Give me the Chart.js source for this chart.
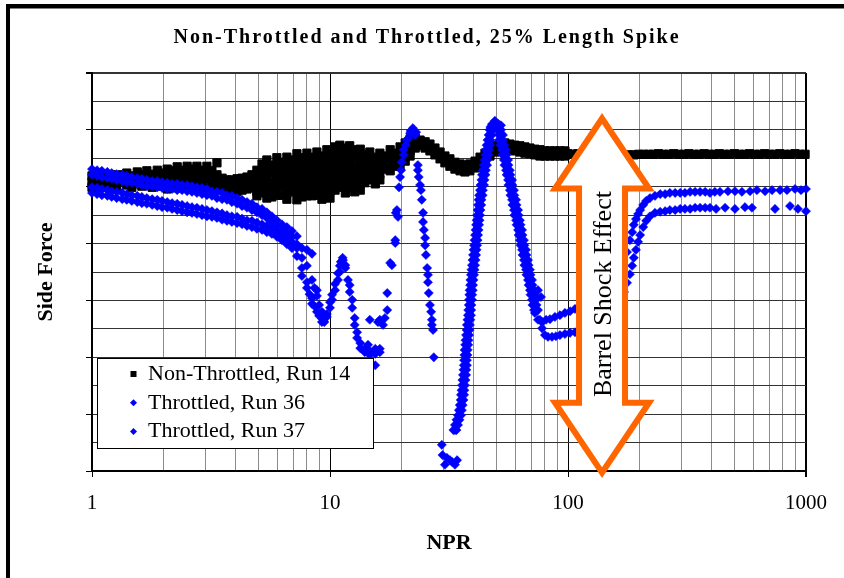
<!DOCTYPE html>
<html><head><meta charset="utf-8">
<script src="https://cdn.jsdelivr.net/npm/chart.js@4.4.0/dist/chart.umd.min.js"></script>
<style>html,body{margin:0;padding:0;background:#fff}#wrap{width:844px;height:578px;position:relative}canvas{display:block}</style>
</head><body><div id="wrap"><canvas id="c" width="844" height="578"></canvas></div>
<script>
const chartTitle = 'Non-Throttled and Throttled, 25% Length Spike';
const xAxisTitle = 'NPR';
const yAxisTitle = 'Side Force';
const seriesLabels = ['Non-Throttled, Run 14', 'Throttled, Run 36', 'Throttled, Run 37'];
const xGridValues = [1,2,3,4,5,6,7,8,9,10,20,30,40,50,60,70,80,90,100,200,300,400,500,600,700,800,900,1000];
const xTickLabels = {1: '1', 10: '10', 100: '100', 1000: '1000'};
const yGridValues = [0,0.5,1,1.5,2,2.5,3,3.5,4,4.5,5,5.5,6,6.5,7];
const yMajorValues = [0,1,2,3,4,5,6,7];
const annotationText = 'Barrel Shock Effect';
const arrowNPR = 139, arrowTopY = 6.20, arrowBottomY = -0.03;

// rows: [NPR, sideForce1, sideForce2, ...]
const run14 = [
[1.00,5.19,5.08,4.99],[1.05,5.15,5.05],[1.10,5.21,5.10,4.99],[1.16,5.17,5.07],[1.21,5.21,5.10,5.01],[1.27,5.17,5.07,4.98],
[1.34,5.21,5.10],[1.40,5.24,5.14,5.03],[1.47,5.19,5.08,4.99],[1.55,5.26,5.15,5.05],[1.62,5.21,5.10,5.01],[1.70,5.28,5.17,5.05],
[1.79,5.22,5.12,4.99],[1.88,5.29,5.19,5.07],[1.97,5.24,5.14,5.01],[2.07,5.31,5.21,5.08,4.96],[2.17,5.28,5.15,5.03],
[2.28,5.35,5.24,5.12,4.98],[2.39,5.29,5.17,5.03],[2.51,5.36,5.26,5.14,4.98],[2.63,5.31,5.19,5.05],[2.76,5.36,5.24,5.12,4.96],
[2.90,5.29,5.17,5.03],[3.04,5.36,5.26,5.14,4.98],[3.19,5.28,5.15,5.01],[3.35,5.42,5.21,5.10,4.99],[3.52,5.15,5.05,4.96],
[3.69,5.12,5.01,4.92],[3.87,5.12,5.03,4.94],[4.07,5.14,5.03,4.92],[4.27,5.15,5.05,4.94],[4.48,5.17,5.07,4.96],[4.70,5.21,5.10,4.98],
[4.93,5.29,5.17,5.05,4.92,4.84],[5.18,5.40,5.28,5.15,5.01,4.89],[5.43,5.47,5.33,5.21,5.07,4.94,4.80],[5.70,5.38,5.24,5.08,4.94,4.82],
[5.98,5.51,5.38,5.26,5.12,4.98,4.85],[6.28,5.43,5.29,5.15,5.01,4.85],[6.59,5.52,5.40,5.28,5.15,5.01,4.89,4.78],
[6.92,5.47,5.33,5.19,5.05,4.91],[7.26,5.58,5.45,5.33,5.19,5.05,4.91,4.77],[7.62,5.51,5.36,5.22,5.08,4.94,4.82],
[8.00,5.59,5.47,5.35,5.22,5.10,4.98,4.84],[8.40,5.52,5.40,5.26,5.12,4.98,4.84],[8.81,5.61,5.49,5.36,5.24,5.12,4.98,4.85],
[9.25,5.54,5.42,5.29,5.15,5.01,4.87,4.78],[9.70,5.65,5.52,5.40,5.28,5.15,5.03,4.91],[10.0,5.58,5.45,5.33,5.19,5.05,4.92,4.80],
[10.5,5.70,5.58,5.45,5.33,5.21,5.08,4.94],[11.0,5.73,5.61,5.49,5.36,5.24,5.12,4.99],[11.6,5.68,5.56,5.42,5.28,5.15,5.01,4.89],
[12.1,5.72,5.59,5.47,5.35,5.22,5.10,4.98],[12.7,5.65,5.51,5.36,5.24,5.12,4.99,4.91],[13.4,5.66,5.54,5.42,5.29,5.17,5.05,4.94],
[14.0,5.56,5.43,5.31,5.19,5.07],[14.7,5.61,5.49,5.36,5.24,5.12],[15.5,5.52,5.40,5.28,5.15,5.05],[16.2,5.59,5.47,5.35,5.22,5.12],
[17.0,5.54,5.42,5.31],[17.9,5.65,5.52,5.40,5.28],[18.8,5.59,5.47,5.36],[19.7,5.70,5.59,5.49,5.36],[20.7,5.77,5.66,5.56,5.45],
[21.7,5.84,5.73,5.63,5.54],[22.8,5.86,5.75,5.68],[23.9,5.82,5.72],[25.1,5.79,5.68],[26.3,5.75,5.63],[27.6,5.68,5.56],
[29.0,5.61,5.49],[30.4,5.54,5.42],[31.9,5.49,5.36],[33.5,5.43,5.31],[35.2,5.40,5.28],[36.9,5.38,5.26],[38.7,5.40,5.28],
[40.7,5.45,5.33],[42.7,5.52,5.40],[44.8,5.59,5.47],[47.0,5.66,5.54],[49.3,5.72,5.61],[51.8,5.75,5.65],[54.3,5.77,5.66],
[57.0,5.75,5.65],[59.8,5.73,5.63],[62.8,5.72,5.61],[65.9,5.70,5.59],[69.2,5.68,5.58],[72.6,5.66,5.56],[76.2,5.65,5.54],
[80.0,5.63,5.54],[84.0,5.63,5.54],[88.1,5.63,5.54],[92.5,5.63,5.54],[97.1,5.63,5.54],
[100,5.58],[105,5.57],[110,5.58],[116,5.57],[122,5.57],[128,5.56],[134,5.57],[141,5.56],[148,5.56],[155,5.55],[163,5.55],
[171,5.55],[180,5.56],[189,5.56],[198,5.57],[208,5.57],[218,5.57],[229,5.57],[240,5.58],[252,5.57],[265,5.57],[278,5.58],
[292,5.57],[307,5.57],[322,5.58],[338,5.57],[355,5.57],[373,5.58],[392,5.57],[411,5.57],[432,5.58],[453,5.57],[476,5.57],
[500,5.58],[525,5.57],[551,5.57],[579,5.58],[608,5.57],[638,5.57],[670,5.58],[704,5.57],[739,5.57],[776,5.58],[815,5.57],
[856,5.57],[899,5.58],[944,5.57],[991,5.57]
];

const run36 = [
[1.00,5.31,5.21],[1.05,5.29,5.19],[1.10,5.28,5.17],[1.16,5.26,5.15],[1.21,5.24,5.14],[1.27,5.22,5.12],[1.34,5.21,5.10],
[1.40,5.19,5.08],[1.47,5.17,5.07],[1.55,5.15,5.05],[1.62,5.14,5.03],[1.70,5.12,5.01],[1.79,5.10,5.01],[1.88,5.10,4.99],
[1.97,5.08,4.98],[2.07,5.07,4.96],[2.17,5.05,4.96],[2.28,5.05,4.94],[2.39,5.03,4.94],[2.51,5.03,4.92],[2.63,5.01,4.91],
[2.76,4.99,4.89],[2.90,4.98,4.87],[3.04,4.96,4.85],[3.19,4.92,4.84],[3.35,4.91,4.80],[3.52,4.89,4.78],[3.69,4.85,4.77],
[3.87,4.84,4.73],[4.07,4.80,4.70],[4.27,4.77,4.66],[4.48,4.73,4.63],[4.70,4.70,4.59],[4.93,4.64,4.55],[5.18,4.61,4.50],
[5.43,4.55,4.45],[5.70,4.48,4.38],[5.98,4.41,4.31],[6.28,4.34,4.24],[6.59,4.29,4.17],[6.92,4.22,4.12],[7.26,4.13,3.99],
[7.62,3.92,3.75],[8.00,3.89,3.61],[8.40,3.82,3.36],[8.6,3.22],[8.81,3.18,3.08],[9.0,2.92],[9.25,2.80,2.69],[9.70,2.76],
[10.0,2.97],[10.2,3.10],[10.5,3.29],[10.8,3.48],[11.0,3.61],[11.3,3.75],[11.6,3.62],[12.1,3.27],[12.4,3.01],[12.7,2.69],
[13.0,2.44],[13.4,2.25],[14.0,2.15],[14.7,2.11,2.66],[15.5,2.15],[16.2,2.09,2.66],
[17.0,2.69],[17.4,3.13],[17.9,3.66],[18.8,4.01],[18.9,4.54],[19.3,4.47],[19.7,5.17],[20.0,5.43],[20.4,5.65],[21.0,5.82],
[21.7,5.94],[22.3,6.03],[23.0,5.96],[23.4,5.29],[23.6,5.17],[24.1,4.94],[24.6,4.54],[24.8,4.24],[25.1,3.97],[25.6,3.57],
[25.8,3.32],[26.3,2.92],[26.8,2.57],[27.3,2.00],
[29.5,0.46],[29.7,0.28],[30.4,0.11],[31.9,0.19],
[33.0,0.72],[34.0,0.90],[34.8,1.07],[35.4,1.25],[35.7,1.42],[36.0,1.60],[36.4,1.78],[36.6,1.95],[36.8,2.13],[37.1,2.30],
[37.5,2.48],[37.8,2.66],[38.1,2.83],[38.4,3.01],[38.6,3.18],[38.9,3.36],[39.3,3.54],[39.7,3.71],[40.1,3.89],[40.5,4.06],
[40.9,4.24],[41.3,4.41],[41.7,4.59],[42.1,4.77],[42.7,4.94],[43.3,5.12],[43.9,5.29],[44.6,5.47],[45.2,5.65],[45.9,5.82],
[46.8,6.00],[47.9,6.10],[49.3,6.16],
[34.0,0.72],[35.0,0.90],[35.8,1.07],[36.4,1.25],[36.7,1.42],[37.1,1.60],[37.4,1.78],[37.6,1.95],[37.9,2.13],[38.2,2.30],
[38.6,2.48],[38.9,2.66],[39.2,2.83],[39.5,3.01],[39.8,3.18],[40.1,3.36],[40.5,3.54],[40.9,3.71],[41.3,3.89],[41.7,4.06],
[42.1,4.24],[42.5,4.41],[42.9,4.59],[43.3,4.77],[43.9,4.94],[44.6,5.12],[45.2,5.29],[45.9,5.47],[46.6,5.65],[47.2,5.82],
[48.2,6.00],
[50.3,6.08],[51.3,5.91],[52.0,5.73],[53.0,5.56],[54.1,5.38],[55.2,5.21],[56.2,5.03],[57.3,4.85],[58.4,4.68],[59.5,4.50],
[60.8,4.33],[62.0,4.15],[63.2,3.97],[64.4,3.80],[65.6,3.62],[66.9,3.45],[68.3,3.27],[69.6,3.10],[70.9,2.92],[72.6,2.78],
[74.8,2.66],[77.8,2.62],
[52.3,6.08],[53.3,5.91],[54.1,5.73],[55.2,5.56],[56.2,5.38],[57.3,5.21],[58.4,5.03],[59.5,4.85],[60.8,4.68],[62.0,4.50],
[63.2,4.33],[64.4,4.15],[65.6,3.97],[66.9,3.80],[68.3,3.62],[69.6,3.45],[70.9,3.27],[72.3,3.10],[73.8,2.92],
[80.9,2.66],[84.0,2.67],[88.1,2.71],[92.5,2.74],[97.1,2.78],[102,2.81],[107,2.85],[112,2.88],[118,2.90],[124,2.92],
[130,2.94],[136,2.97],[143,3.03],[150,3.11],[158,3.24],[165,3.41],[172,3.62],[177,3.85],[182,4.06],[186,4.20],[189,4.33],
[193,4.43],[197,4.52],[201,4.59],[207,4.68],[213,4.75],[221,4.80],[232,4.84],
[244,4.87],[256,4.87],[268,4.89],[282,4.89],[296,4.89],[310,4.89],[326,4.91],[342,4.91],[359,4.91],[377,4.91],[395,4.89],
[414,4.91],[435,4.91],[470,4.92],[503,4.92],[538,4.91],[582,4.92],[622,4.94],[673,4.92],[720,4.94],[778,4.94],[832,4.94],
[899,4.96],[953,4.94],[1000,4.96]
];

const run37 = [
[1.00,4.99,4.89],[1.05,4.98,4.87],[1.10,4.96,4.85],[1.16,4.94,4.84],[1.21,4.92,4.82],[1.27,4.91,4.80],[1.34,4.89,4.78],
[1.40,4.87,4.77],[1.47,4.85,4.75],[1.55,4.84,4.73],[1.62,4.82,4.71],[1.70,4.80,4.70],[1.79,4.78,4.68],[1.88,4.77,4.66],
[1.97,4.75,4.64],[2.07,4.73,4.63],[2.17,4.71,4.61],[2.28,4.70,4.59],[2.39,4.68,4.57],[2.51,4.66,4.55],[2.63,4.64,4.54],
[2.76,4.63,4.52],[2.90,4.61,4.50],[3.04,4.59,4.48],[3.19,4.57,4.47],[3.35,4.55,4.45],[3.52,4.53,4.42],[3.69,4.50,4.40],
[3.87,4.48,4.38],[4.07,4.47,4.36],[4.27,4.44,4.34],[4.48,4.41,4.31],[4.70,4.40,4.29],[4.93,4.37,4.26],[5.18,4.34,4.24],
[5.43,4.31,4.20],[5.70,4.27,4.17],[5.98,4.22,4.12],[6.28,4.17,4.06],[6.59,4.10,3.99],[6.92,4.03,3.92],[7.26,3.92,3.78],
[7.62,3.57,3.43],[8.00,3.32,3.22],[8.2,3.11],[8.40,3.04,2.94],[8.6,2.90],[8.81,2.80],[9.0,2.73],[9.25,2.62],[9.47,2.62],
[9.70,2.71],[10.0,2.87],[10.2,3.01],[10.5,3.18],[10.8,3.36],[11.0,3.50],[11.1,3.68],[11.34,3.71],[11.6,3.57],[11.9,3.36],
[12.1,3.15],[12.4,2.87],[12.7,2.57],[13.0,2.34],[13.4,2.16],[14.0,2.09],[14.45,2.22],[14.7,2.04],[15.5,2.06,1.86],
[15.9,2.62],[16.2,2.15],[16.7,2.57],
[17.4,2.83],[18.2,3.62],[18.8,4.06],[19.1,4.59],[19.5,4.99],[19.9,5.29],[20.4,5.56],[20.8,5.73],[21.4,5.86],[21.8,5.98],
[22.8,5.91],[23.4,5.38],[23.9,5.03],[24.3,4.77],[24.6,4.38],[25.1,4.10],[25.3,3.80],[25.8,3.45],[26.0,3.13],[26.6,2.80],
[26.8,2.66],[27.1,2.48],
[31.0,0.23],[32.6,0.16],[33.5,0.11,0.72],[34.2,0.19],
[34.5,0.81],[35.5,0.98],[36.1,1.16],[36.6,1.34],[36.9,1.51],[37.3,1.69],[37.6,1.86],[37.8,2.04],[38.1,2.22],[38.4,2.39],
[38.7,2.57],[39.1,2.74],[39.3,2.92],[39.6,3.10],[39.9,3.27],[40.3,3.45],[40.7,3.62],[41.1,3.80],[41.5,3.97],[41.9,4.15],
[42.3,4.33],[42.7,4.50],[43.2,4.68],[43.8,4.85],[44.4,5.03],[45.0,5.21],[45.7,5.38],[46.4,5.56],[47.1,5.73],[47.9,5.91],
[48.9,6.05],[51.0,6.10],
[33.5,0.81],[34.5,0.98],[35.1,1.16],[35.5,1.34],[35.9,1.51],[36.2,1.69],[36.5,1.86],[36.7,2.04],[37.0,2.22],[37.3,2.39],
[37.6,2.57],[38.0,2.74],[38.3,2.92],[38.5,3.10],[38.8,3.27],[39.1,3.45],[39.5,3.62],[39.9,3.80],[40.3,3.97],[40.7,4.15],
[41.1,4.33],[41.5,4.50],[41.9,4.68],[42.3,4.85],[42.9,5.03],[43.5,5.21],[44.2,5.38],[44.9,5.56],[45.5,5.73],[46.4,5.91],
[47.2,6.05],
[52.3,6.00],[53.3,5.82],[54.9,5.65],[56.0,5.47],[57.0,5.29],[58.2,5.12],[59.3,4.94],[60.5,4.77],[61.7,4.59],[62.8,4.41],
[64.1,4.24],[65.3,4.06],[66.6,3.89],[67.9,3.71],[69.2,3.54],[70.6,3.36],[72.0,3.18],[73.4,3.01],[74.8,2.83,3.18],[76.2,2.66],
[77.0,3.06],[77.8,2.51],[80.0,2.39],
[50.3,6.00],[51.3,5.82],[52.8,5.65],[53.8,5.47],[54.9,5.29],[56.0,5.12],[57.0,4.94],[58.2,4.77],[59.3,4.59],[60.5,4.41],
[61.7,4.24],[62.8,4.06],[64.1,3.89],[65.3,3.71],[66.6,3.54],[67.9,3.36],[69.2,3.18],[70.6,3.01],[72.0,2.83],
[82.4,2.36],[85.7,2.36],[89.0,2.37],[92.5,2.39],[97.1,2.41],[102,2.43],[107,2.44],[112,2.44],[118,2.46],[124,2.46],
[130,2.48],[136,2.51],[143,2.57],[150,2.66],[158,2.80],[165,2.97],[172,3.15],[177,3.31],[182,3.46],[186,3.61],[189,3.75],
[193,3.89],[197,4.03],[201,4.15],[207,4.29],[213,4.40],[221,4.48],[232,4.54],
[244,4.56],[256,4.57],[268,4.59],[282,4.59],[296,4.61],[310,4.61],[326,4.61],[342,4.63],[359,4.63],[377,4.63],[395,4.63],
[419,4.61],[457,4.63],[503,4.61],[554,4.64],[593,4.63],[741,4.61],[857,4.66],[925,4.61],[1000,4.57]
];

const FONT = "'Liberation Serif','Times New Roman',serif";
const toPoints = rows => rows.flatMap(([x, ...ys]) => ys.map(y => ({x, y})));

const decor = {
  id: 'decor',
  beforeDraw(chart) {
    const ctx = chart.ctx;
    ctx.save();
    ctx.fillStyle = '#fff';
    ctx.fillRect(0, 0, chart.width, chart.height);
    ctx.restore();
  },
  afterDatasetsDraw(chart) {
    const ctx = chart.ctx, xs = chart.scales.x, ys = chart.scales.y, ca = chart.chartArea;
    // annotation arrow
    const cx = xs.getPixelForValue(arrowNPR);
    const yt = ys.getPixelForValue(arrowTopY), yb = ys.getPixelForValue(arrowBottomY);
    const headLen = 70, headHalf = 47, shaftHalf = 23;
    ctx.save();
    ctx.beginPath();
    ctx.moveTo(cx, yt);
    ctx.lineTo(cx + headHalf, yt + headLen);
    ctx.lineTo(cx + shaftHalf, yt + headLen);
    ctx.lineTo(cx + shaftHalf, yb - headLen);
    ctx.lineTo(cx + headHalf, yb - headLen);
    ctx.lineTo(cx, yb);
    ctx.lineTo(cx - headHalf, yb - headLen);
    ctx.lineTo(cx - shaftHalf, yb - headLen);
    ctx.lineTo(cx - shaftHalf, yt + headLen);
    ctx.lineTo(cx - headHalf, yt + headLen);
    ctx.closePath();
    ctx.fillStyle = '#fff';
    ctx.fill();
    ctx.lineWidth = 6;
    ctx.lineJoin = 'miter';
    ctx.miterLimit = 10;
    ctx.strokeStyle = '#FF6600';
    ctx.stroke();
    ctx.translate(cx + 2, (yt + yb) / 2 - 1.5);
    ctx.rotate(-Math.PI / 2);
    ctx.fillStyle = '#000';
    ctx.font = `26px ${FONT}`;
    ctx.textAlign = 'center';
    ctx.textBaseline = 'middle';
    ctx.fillText(annotationText, 0, 0);
    ctx.restore();

    // legend box
    ctx.save();
    const bx = Math.round(ca.left) + 5.5, by = Math.round(ca.bottom) - 112.5, bw = 276, bh = 90;
    ctx.fillStyle = '#fff';
    ctx.fillRect(bx, by, bw, bh);
    ctx.lineWidth = 1;
    ctx.strokeStyle = '#000';
    ctx.strokeRect(bx, by, bw, bh);
    ctx.font = `22px ${FONT}`;
    ctx.textBaseline = 'alphabetic';
    chart.data.datasets.forEach((ds, i) => {
      const base = by + 21.5 + i * 28.7;
      const my = base - 6, mx = bx + 36;
      ctx.fillStyle = ds.backgroundColor;
      if (ds.pointStyle === 'rect') {
        ctx.fillRect(mx - 3, my - 3, 6, 6);
      } else {
        ctx.beginPath();
        ctx.moveTo(mx - 3.5, my); ctx.lineTo(mx, my - 3.5); ctx.lineTo(mx + 3.5, my); ctx.lineTo(mx, my + 3.5);
        ctx.closePath(); ctx.fill();
      }
      ctx.fillStyle = '#000';
      ctx.fillText(ds.label, bx + 50.5, base);
    });
    ctx.restore();
  },
  afterDraw(chart) {
    const ctx = chart.ctx;
    ctx.save();
    ctx.fillStyle = '#000';
    ctx.font = `bold 20px ${FONT}`;
    ctx.textBaseline = 'alphabetic';
    ctx.letterSpacing = '2px';
    const w = ctx.measureText(chartTitle).width;
    ctx.fillText(chartTitle, chart.width / 2 + 5 - w / 2, 43);
    ctx.letterSpacing = '0px';
    // outer frame
    ctx.fillRect(6, 4, chart.width - 6, 4.5);
    ctx.fillRect(6, 4, 4, chart.height - 4);
    ctx.restore();
  }
};

const isDecade = v => Object.prototype.hasOwnProperty.call(xTickLabels, v);

new Chart(document.getElementById('c'), {
  type: 'scatter',
  data: {
    datasets: [
      {label: seriesLabels[0], data: toPoints(run14), pointStyle: 'rect', pointRadius: 5.8, borderWidth: 1,
       backgroundColor: '#000000', borderColor: '#000000', order: 3, clip: 8},
      {label: seriesLabels[1], data: toPoints(run36), pointStyle: 'rectRot', pointRadius: 4.6, borderWidth: 0.5,
       backgroundColor: '#0000FF', borderColor: '#0000FF', order: 2, clip: 8},
      {label: seriesLabels[2], data: toPoints(run37), pointStyle: 'rectRot', pointRadius: 4.6, borderWidth: 0.5,
       backgroundColor: '#0000FF', borderColor: '#0000FF', order: 1, clip: 8}
    ]
  },
  options: {
    responsive: false,
    animation: false,
    devicePixelRatio: 1,
    events: [],
    layout: {padding: {left: 0, right: 38, top: 73, bottom: 0}},
    plugins: {legend: {display: false}, tooltip: {enabled: false}, title: {display: false}},
    elements: {point: {hoverRadius: 0}},
    scales: {
      x: {
        type: 'logarithmic', position: 'bottom', min: 1, max: 1000,
        afterBuildTicks: s => { s.ticks = xGridValues.map(v => ({value: v, major: isDecade(v)})); },
        afterFit: s => { s.height = 107; },
        ticks: {autoSkip: false, maxRotation: 0, minRotation: 0, padding: 14, color: '#000',
                font: {family: FONT, size: 21}, callback: v => xTickLabels[v] || ''},
        grid: {
          color: c => (c.tick && isDecade(c.tick.value)) ? '#000' : '#8c8c8c',
          lineWidth: c => (c.tick && c.tick.value === 1000) ? 2 : 1,
          tickLength: 6,
          tickColor: c => (c.tick && isDecade(c.tick.value)) ? '#000' : 'rgba(0,0,0,0)'
        },
        border: {display: true, color: '#000', width: 2},
        title: {display: true, text: xAxisTitle, color: '#000', font: {family: FONT, size: 22, weight: 'bold'},
                padding: {top: 0, bottom: 21}}
      },
      y: {
        type: 'linear', position: 'left', min: 0, max: 7,
        afterBuildTicks: s => { s.ticks = yGridValues.map(v => ({value: v})); },
        afterFit: s => { s.width = 92; },
        ticks: {display: false},
        grid: {
          color: '#333',
          lineWidth: c => (c.tick && c.tick.value === 7) ? 2 : 1,
          tickLength: 6,
          tickColor: c => (c.tick && yMajorValues.includes(c.tick.value)) ? '#000' : 'rgba(0,0,0,0)'
        },
        border: {display: true, color: '#000', width: 2},
        title: {display: true, text: yAxisTitle, color: '#000', font: {family: FONT, size: 22, weight: 'bold'},
                padding: {top: 33, bottom: 0}}
      }
    }
  },
  plugins: [decor]
});
</script>
</body></html>
